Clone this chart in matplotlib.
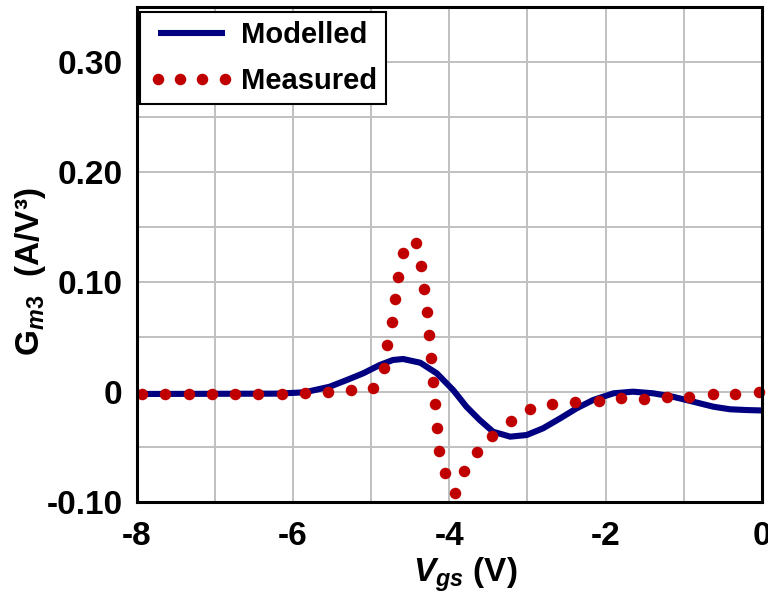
import matplotlib
matplotlib.use("Agg")
import matplotlib.pyplot as plt
from matplotlib.ticker import MultipleLocator, FixedLocator

plt.rcParams['font.family'] = ['Liberation Sans', 'DejaVu Sans']
plt.rcParams['font.weight'] = 'bold'
plt.rcParams['mathtext.fontset'] = 'custom'
plt.rcParams['mathtext.rm'] = 'Liberation Sans:bold'
plt.rcParams['mathtext.it'] = 'Liberation Sans:italic:bold'
plt.rcParams['mathtext.bf'] = 'Liberation Sans:bold'

# Modelled curve (Vgs, Gm3)
model_v = [-8.0, -6.2, -5.85, -5.53, -5.31, -5.10, -4.89, -4.72, -4.59, -4.37,
           -4.16, -3.95, -3.78, -3.61, -3.44, -3.22, -3.01, -2.80, -2.58, -2.37,
           -2.16, -1.90, -1.65, -1.39, -1.14, -0.88, -0.62, -0.41, -0.20, 0.0]
model_g = [-0.0018, -0.0015, -0.0003, 0.0048, 0.0109, 0.0170, 0.0245, 0.0291, 0.0300, 0.0266,
           0.0170, 0.0018, -0.0134, -0.0255, -0.0361, -0.0406, -0.0391, -0.0330, -0.0239, -0.0148,
           -0.0073, -0.0012, 0.0003, -0.0012, -0.0043, -0.0088, -0.0134, -0.0157, -0.0164, -0.0168]

# Measured data (Vgs, Gm3)
meas_v = [-7.93, -7.63, -7.33, -7.03, -6.74, -6.44, -6.14, -5.85, -5.55, -5.26,
          -4.97, -4.84, -4.79, -4.73, -4.69, -4.65, -4.59, -4.43, -4.36, -4.32,
          -4.29, -4.26, -4.23, -4.21, -4.18, -4.16, -4.13, -4.05, -3.93, -3.81,
          -3.65, -3.45, -3.21, -2.97, -2.68, -2.39, -2.09, -1.80, -1.51, -1.22,
          -0.93, -0.63, -0.34, -0.04]
meas_g = [-0.0018, -0.0018, -0.0018, -0.0018, -0.0018, -0.0018, -0.0018, -0.0012, 0.0003, 0.0018,
          0.0039, 0.0221, 0.0425, 0.0634, 0.0843, 0.1048, 0.1261, 0.1352, 0.1148, 0.0936,
          0.0730, 0.0518, 0.0312, 0.0094, -0.0112, -0.0325, -0.0534, -0.0739, -0.0915, -0.0718,
          -0.0548, -0.0397, -0.0264, -0.0152, -0.0106, -0.0094, -0.0082, -0.0057, -0.0061, -0.0048,
          -0.0043, -0.0018, -0.0018, 0.0000]

x_ticks = [-8, -6, -4, -2, 0]
x_tick_labels = ['-8', '-6', '-4', '-2', '0']
y_ticks = [-0.10, 0.0, 0.10, 0.20, 0.30]
y_tick_labels = ['-0.10', '0', '0.10', '0.20', '0.30']

fig = plt.figure(figsize=(7.68, 5.95), dpi=100)
ax = fig.add_axes([136.5 / 768, 1 - 502 / 595, (762 - 136.5) / 768, (502 - 7) / 595])

ax.plot(model_v, model_g, color='#000080', lw=4.4, solid_joinstyle='round',
        solid_capstyle='butt', label='Modelled', zorder=3)
ax.plot(meas_v, meas_g, linestyle='none', marker='o', markersize=8.3,
        markerfacecolor='#c00000', markeredgecolor='#c00000', markeredgewidth=0,
        label='Measured', zorder=4, clip_on=False)

ax.set_xlim(-8, 0)
ax.set_ylim(-0.10, 0.35)
ax.xaxis.set_major_locator(FixedLocator(x_ticks))
ax.set_xticklabels(x_tick_labels)
ax.xaxis.set_minor_locator(MultipleLocator(1))
ax.yaxis.set_major_locator(FixedLocator(y_ticks))
ax.set_yticklabels(y_tick_labels)
ax.yaxis.set_minor_locator(MultipleLocator(0.05))

ax.grid(True, which='both', color='#c0c0c0', lw=1.4, zorder=0)
ax.set_axisbelow(True)
ax.tick_params(which='both', length=0)
ax.tick_params(axis='x', labelsize=24, pad=14)
ax.tick_params(axis='y', labelsize=24, pad=10)
for lbl in ax.get_xticklabels() + ax.get_yticklabels():
    lbl.set_fontweight('bold')

for s in ax.spines.values():
    s.set_linewidth(2.2)
    s.set_color('black')
    s.set_zorder(5)

ax.set_xlabel(r'$V_{gs}$ (V)', fontsize=24, fontweight='bold')
ax.xaxis.set_label_coords(0.525, -0.108)
ax.set_ylabel(r'$\mathrm{G}_{m3}$  (A/V³)', fontsize=24, fontweight='bold')
ax.yaxis.set_label_coords(-0.142, 0.465)

leg = ax.legend(loc='upper left', bbox_to_anchor=((140 - 136.5) / 625.5, (502 - 12) / 495),
                borderaxespad=0, prop={'weight': 'bold', 'size': 21},
                numpoints=4, handlelength=2.9, handletextpad=0.25, labelspacing=0.62,
                borderpad=0.3, fancybox=False, framealpha=1, edgecolor='black')
leg.get_frame().set_linewidth(1.5)
leg.set_zorder(6)

fig.savefig('out.png', dpi=100)
